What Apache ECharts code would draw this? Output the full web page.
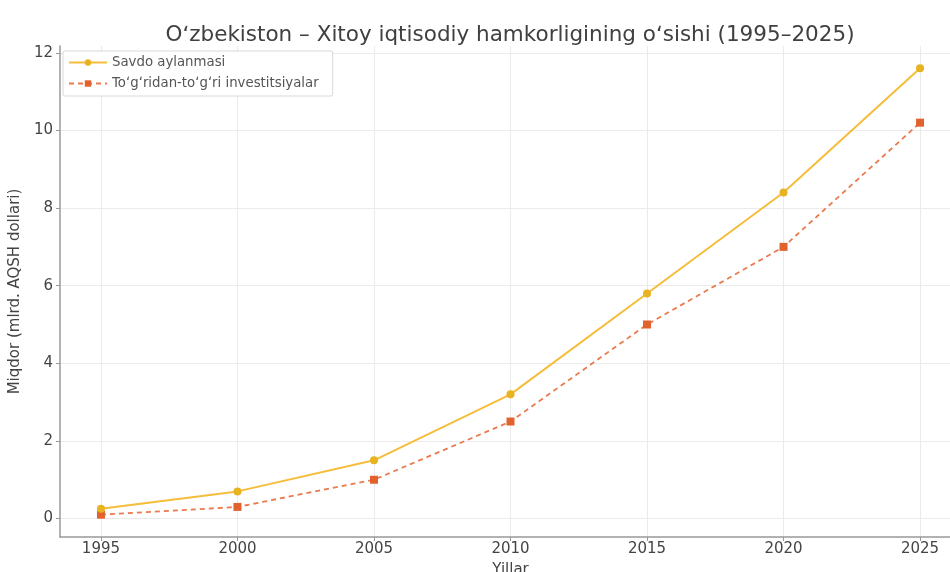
<!DOCTYPE html>
<html><head><meta charset="utf-8">
<script src="https://cdn.jsdelivr.net/npm/echarts@6/dist/echarts.min.js"></script>
<style>html,body{margin:0;padding:0;background:#fff}#c{width:950px;height:572px}</style>
</head><body><div id="c"></div>
<script>
const years = [1995, 2000, 2005, 2010, 2015, 2020, 2025];
const savdo = [0.25, 0.7, 1.5, 3.2, 5.8, 8.4, 11.6];
const invest = [0.1, 0.3, 1.0, 2.5, 5.0, 7.0, 10.2];
const yTicks = [0, 2, 4, 6, 8, 10, 12];
const xTicks = [1995, 2000, 2005, 2010, 2015, 2020, 2025];
const titleText = 'Oʻzbekiston – Xitoy iqtisodiy hamkorligining oʻsishi (1995–2025)';
const names = ['Savdo aylanmasi', 'Toʻgʻridan-toʻgʻri investitsiyalar'];

const font = 'DejaVu Sans';
const chart = echarts.init(document.getElementById('c'));
chart.setOption({
  animation: false,
  textStyle: {fontFamily: font},
  title: {text: titleText, left: 505, top: 19, textAlign: 'center',
    textStyle: {fontFamily: font, fontSize: 21.5, fontWeight: 'normal', color: '#404040'}},
  legend: {
    left: 63, top: 51, orient: 'vertical', itemGap: 8, itemWidth: 38, itemHeight: 8,
    backgroundColor: '#fff', borderColor: '#d8d8d8', borderWidth: 1, borderRadius: 2,
    padding: [5, 14, 6, 5],
    textStyle: {fontFamily: font, fontSize: 13.3, color: '#555'},
    data: names
  },
  grid: {left: 60, right: -11, top: 46, bottom: 35, containLabel: false, outerBoundsMode: 'none'},
  xAxis: {
    type: 'value', min: 1993.5, max: 2026.5,
    name: 'Yillar', nameLocation: 'middle', nameGap: 26,
    nameTextStyle: {fontFamily: font, fontSize: 15, color: '#444'},
    axisLine: {onZero: false, lineStyle: {color: '#999', width: 1.5}},
    axisTick: {customValues: xTicks, length: 4, lineStyle: {color: '#999'}},
    axisLabel: {customValues: xTicks, fontSize: 15, color: '#444', margin: 5, formatter: v => String(v)},
    splitLine: {show: true, lineStyle: {color: '#ebebeb', width: 1}}
  },
  yAxis: {
    type: 'value', min: -0.475, max: 12.175,
    name: 'Miqdor (mlrd. AQSH dollari)', nameLocation: 'middle', nameGap: 31,
    nameTextStyle: {fontFamily: font, fontSize: 15, color: '#444'},
    axisLine: {show: true, lineStyle: {color: '#999', width: 1.5}},
    axisTick: {show: true, customValues: yTicks, length: 4, lineStyle: {color: '#999'}},
    axisLabel: {customValues: yTicks, fontSize: 15, color: '#444', margin: 7},
    splitLine: {show: true, lineStyle: {color: '#ebebeb', width: 1}}
  },
  series: [
    {name: names[0], type: 'line', data: years.map((y, i) => [y, savdo[i]]),
      symbol: 'circle', symbolSize: 8,
      lineStyle: {color: '#f5bd3a', width: 2},
      itemStyle: {color: '#e8b320'}, color: '#f0b82c', z: 3},
    {name: names[1], type: 'line', data: years.map((y, i) => [y, invest[i]]),
      symbol: 'rect', symbolSize: 8,
      lineStyle: {color: '#ea7a4e', width: 1.8, type: [5, 4]},
      itemStyle: {color: '#e2622d'}, color: '#e2622d', z: 2}
  ]
});
</script></body></html>
